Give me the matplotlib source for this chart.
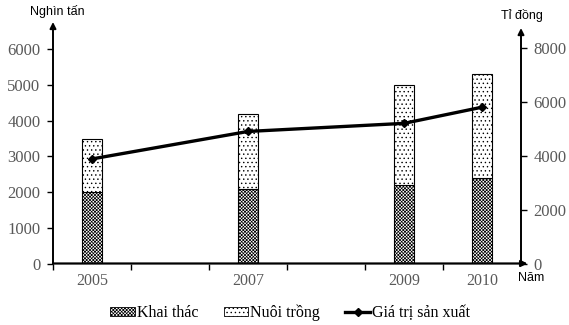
import matplotlib.pyplot as plt
from matplotlib.patches import Patch
from matplotlib.lines import Line2D

years = [2005, 2007, 2009, 2010]
khai_thac = [2000, 2100, 2200, 2400]        # nghìn tấn
nuoi_trong = [1500, 2100, 2800, 2900]       # nghìn tấn
gia_tri = [3880, 4900, 5200, 5800]          # tỉ đồng

serif = 'Liberation Serif'
sans = 'Liberation Sans'
grey = '#595959'
plt.rcParams['hatch.linewidth'] = 0.5
hatch_kt = 'xxxxxxxxxx'
hatch_nt = '....'

fig = plt.figure(figsize=(5.69, 3.25), dpi=100)
ax = fig.add_axes([53/569, 61.5/325, 468/569, 241.5/325])
ax2 = ax.twinx()

ax.bar(years, khai_thac, width=0.26, color='white', edgecolor='black',
       hatch=hatch_kt, linewidth=0.8)
ax.bar(years, nuoi_trong, width=0.26, bottom=khai_thac, color='white',
       edgecolor='black', hatch=hatch_nt, linewidth=0.8)
ax2.plot(years, gia_tri, color='black', lw=2.4, marker='D', ms=4.5, zorder=5)

ax.set_xlim(2004.5, 2010.5)
ax.set_ylim(0, 6765)
ax2.set_ylim(0, 8961)

for a in (ax, ax2):
    for s in a.spines.values():
        s.set_visible(False)

# axes drawn as arrows
ax.annotate('', xy=(0, 1.0), xytext=(0, 0), xycoords='axes fraction',
            arrowprops=dict(arrowstyle='-|>', color='black', lw=1.4,
                            mutation_scale=9, shrinkA=0, shrinkB=0))
ax.annotate('', xy=(1, 0.975), xytext=(1, 0), xycoords='axes fraction',
            arrowprops=dict(arrowstyle='-|>', color='black', lw=1.4,
                            mutation_scale=9, shrinkA=0, shrinkB=0))
ax.annotate('', xy=(1.014, 0), xytext=(0, 0), xycoords='axes fraction',
            arrowprops=dict(arrowstyle='-|>', color='black', lw=1.6,
                            mutation_scale=9, shrinkA=0, shrinkB=0))

ax.set_yticks(range(0, 7000, 1000))
ax2.set_yticks(range(0, 10000, 2000)[:5])
ax.set_xticks([2004.5, 2005.5, 2006.5, 2007.5, 2008.5, 2009.5])
ax.set_xticklabels([])
ax.set_xticks(years, minor=True)
ax.set_xticklabels([str(y) for y in years], minor=True,
                   fontfamily=serif, fontsize=11.5, color=grey)
ax.tick_params(axis='x', which='major', direction='out', length=4, width=1)
ax.tick_params(axis='x', which='minor', length=0, pad=7)
ax.tick_params(axis='y', direction='out', length=4, width=1, pad=5)
ax2.tick_params(axis='y', direction='out', length=4, width=1, pad=5)
for lab in ax.get_yticklabels() + ax2.get_yticklabels():
    lab.set_fontfamily(serif)
    lab.set_fontsize(12)
    lab.set_color(grey)

fig.text(57/569, 1 - 11/325, 'Nghìn tấn', fontfamily=sans, fontsize=9,
         ha='center', va='center')
fig.text(522/569, 1 - 16/325, 'Tỉ đồng', fontfamily=sans, fontsize=9,
         ha='center', va='center')
fig.text(531/569, 1 - 278/325, 'Năm', fontfamily=sans, fontsize=9,
         ha='center', va='center')

handles = [Patch(facecolor='white', edgecolor='black', hatch=hatch_kt, lw=0.6),
           Patch(facecolor='white', edgecolor='black', hatch=hatch_nt, lw=0.6),
           Line2D([], [], color='black', lw=2.4, marker='D', ms=4)]
fig.legend(handles, ['Khai thác', 'Nuôi trồng', 'Giá trị sản xuất'],
           loc='center', bbox_to_anchor=(290/569, 1 - 313/325), ncol=3,
           frameon=False, prop={'family': serif, 'size': 11.5},
           handlelength=1.55, handleheight=0.55, handletextpad=0.1,
           columnspacing=1.6)

fig.savefig('out.png', dpi=100)
